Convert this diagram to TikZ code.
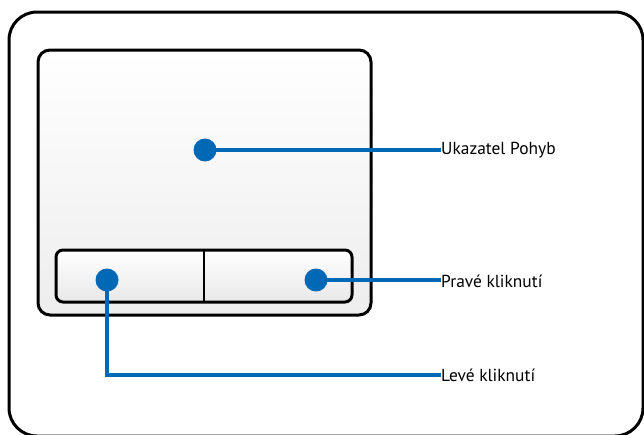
\documentclass[tikz,border=0pt]{standalone}
\usepackage{fontspec}
\setmainfont{PT Sans}
\begin{document}
\begin{tikzpicture}[x=1pt,y=-1pt,
  frame/.style={draw=black,line width=3pt},
  dot/.style={circle,fill=asusblue,inner sep=0pt,minimum size=23pt},
  lead/.style={draw=asusblue,line width=4.5pt},
  lbl/.style={anchor=west,inner sep=0pt,font=\fontsize{17.4}{19}\selectfont}]
\definecolor{asusblue}{HTML}{0068B5}
\useasboundingbox (0,0) rectangle (644,434);
\draw[frame,rounded corners=28pt] (9,12) rectangle (643,436);
\draw[frame,rounded corners=12pt,top color=white,bottom color=black!7] (38,50) rectangle (371,315);
\draw[frame,rounded corners=7pt,top color=white,bottom color=black!9] (56,250) rectangle (352,302);
\draw[frame,line width=2.5pt] (204,250) -- (204,302);
\node[dot] (p) at (205,150) {};
\node[dot] (r) at (316,280) {};
\node[dot] (l) at (107,280) {};
\node[lbl] (tp) at (441,150) {Ukazatel Pohyb};
\node[lbl] (tr) at (441,281) {Pravé kliknutí};
\node[lbl] (tl) at (441,375) {Levé kliknutí};
\draw[lead] (p.center) -- (tp.west);
\draw[lead] (r.center) -- (tr.west |- r.center);
\draw[lead] (l.center) |- (tl.west);
\end{tikzpicture}
\end{document}
